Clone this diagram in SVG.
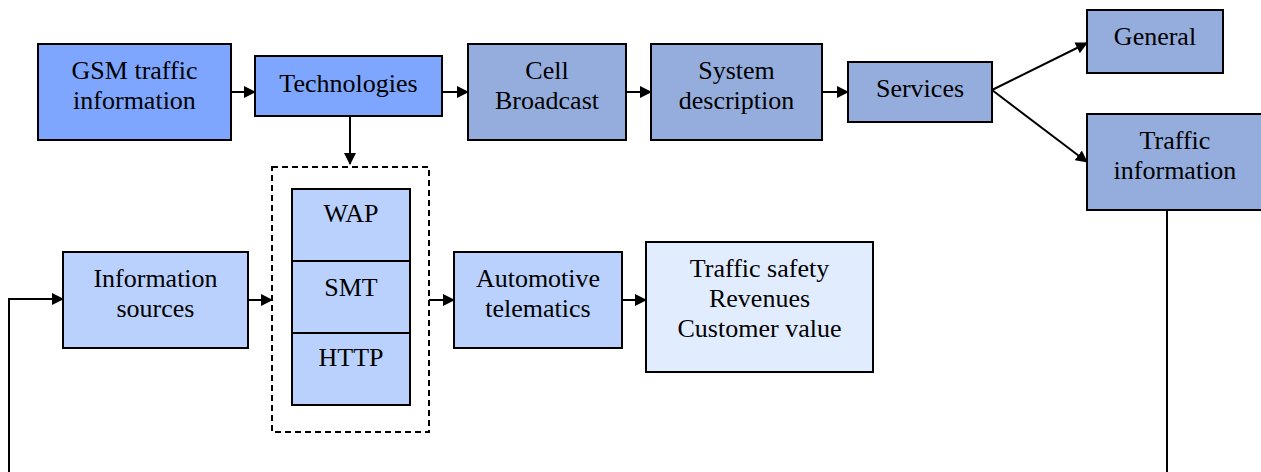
<svg xmlns="http://www.w3.org/2000/svg" width="1261" height="472" viewBox="0 0 1261 472">
<style>
.box{stroke:#000;stroke-width:2}
.c1{fill:#7EA6FE}
.c2{fill:#95ADDC}
.c3{fill:#BAD1FD}
.c4{fill:#E2ECFF}
text{font-family:"Liberation Serif","Times New Roman",serif;font-size:26px;fill:#000;text-anchor:middle}
.ln{stroke:#000;stroke-width:2;fill:none}
</style>
<defs>
<marker id="ah" markerWidth="12" markerHeight="12" viewBox="0 0 12 12" refX="11" refY="6" orient="auto" markerUnits="userSpaceOnUse">
<path d="M0,0 L12,6 L0,12 Z" fill="#000"/>
</marker>
</defs>
<g id="connectors">
<line class="ln" x1="231" y1="92" x2="255" y2="92" marker-end="url(#ah)"/>
<line class="ln" x1="442" y1="92" x2="468" y2="92" marker-end="url(#ah)"/>
<line class="ln" x1="626" y1="92" x2="651" y2="92" marker-end="url(#ah)"/>
<line class="ln" x1="822" y1="92" x2="848" y2="92" marker-end="url(#ah)"/>
<line class="ln" x1="992" y1="90" x2="1087" y2="43" marker-end="url(#ah)"/>
<line class="ln" x1="992" y1="90" x2="1087" y2="162" marker-end="url(#ah)"/>
<line class="ln" x1="350" y1="116" x2="350" y2="164" marker-end="url(#ah)"/>
<line class="ln" x1="248" y1="300" x2="272" y2="300" marker-end="url(#ah)"/>
<line class="ln" x1="429" y1="300" x2="454" y2="300" marker-end="url(#ah)"/>
<line class="ln" x1="622" y1="300" x2="646" y2="300" marker-end="url(#ah)"/>
<polyline class="ln" points="9,472 9,299 63,299" marker-end="url(#ah)"/>
<line class="ln" x1="1167" y1="210" x2="1167" y2="472"/>
</g>
<g id="gsm"><rect class="box c1" x="38" y="44" width="193" height="96"/><text x="134.5" y="79">GSM traffic</text><text x="134.5" y="109">information</text></g>
<g id="technologies"><rect class="box c1" x="255" y="56" width="187" height="60"/><text x="348.5" y="92">Technologies</text></g>
<g id="cell"><rect class="box c2" x="468" y="44" width="158" height="96"/><text x="547" y="79">Cell</text><text x="547" y="109">Broadcast</text></g>
<g id="system"><rect class="box c2" x="651" y="44" width="171" height="96"/><text x="736.5" y="79">System</text><text x="736.5" y="109">description</text></g>
<g id="services"><rect class="box c2" x="848" y="62" width="144" height="60"/><text x="920" y="97">Services</text></g>
<g id="general"><rect class="box c2" x="1087" y="10" width="136" height="63"/><text x="1155" y="45">General</text></g>
<g id="trafficinfo"><rect class="box c2" x="1087" y="114" width="180" height="96"/><text x="1175" y="149">Traffic</text><text x="1175" y="179">information</text></g>
<g id="infosources"><rect class="box c3" x="63" y="252" width="185" height="96"/><text x="155.5" y="287">Information</text><text x="155.5" y="317">sources</text></g>
<g id="protocols">
<rect x="272" y="167" width="157" height="265" fill="none" stroke="#000" stroke-width="2" stroke-dasharray="6,4"/>
<rect class="box c3" x="292" y="189" width="118" height="72"/><text x="351" y="222">WAP</text>
<rect class="box c3" x="292" y="261" width="118" height="72"/><text x="351" y="296">SMT</text>
<rect class="box c3" x="292" y="333" width="118" height="72"/><text x="351" y="366">HTTP</text>
</g>
<g id="automotive"><rect class="box c3" x="454" y="252" width="168" height="96"/><text x="538" y="287">Automotive</text><text x="538" y="317">telematics</text></g>
<g id="outcomes"><rect class="box c4" x="646" y="242" width="227" height="130"/><text x="759.5" y="277">Traffic safety</text><text x="759.5" y="307">Revenues</text><text x="759.5" y="337">Customer value</text></g>
</svg>
